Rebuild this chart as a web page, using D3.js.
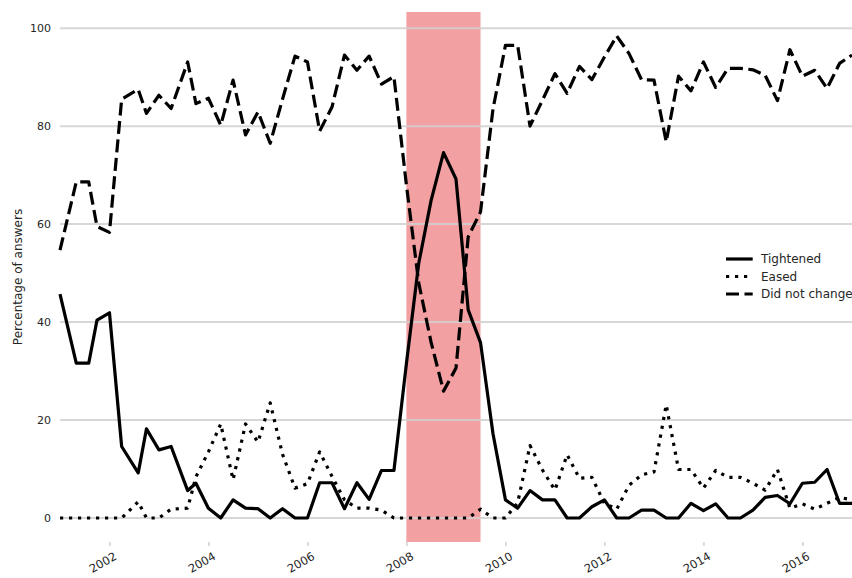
<!DOCTYPE html>
<html>
<head>
<meta charset="utf-8">
<script src="https://cdn.jsdelivr.net/npm/d3@7"></script>
<style>
  body { margin: 0; background: #fff; }
  svg text { font-family: "DejaVu Sans", sans-serif; fill: #262626; }
</style>
</head>
<body>
<div id="chart"></div>
<script>
// Survey dates (one per survey round)
const surveyDates = [
  "2001-01", "2001-05", "2001-08", "2001-10",
  "2002-01", "2002-04", "2002-08", "2002-10",
  "2003-01", "2003-04", "2003-08", "2003-10",
  "2004-01", "2004-04", "2004-07", "2004-10",
  "2005-01", "2005-04", "2005-07", "2005-10",
  "2006-01", "2006-04", "2006-07", "2006-10",
  "2007-01", "2007-04", "2007-07", "2007-10",
  "2008-01", "2008-04", "2008-07", "2008-10",
  "2009-01", "2009-04", "2009-07", "2009-10",
  "2010-01", "2010-04", "2010-07", "2010-10",
  "2011-01", "2011-04", "2011-07", "2011-10",
  "2012-01", "2012-04", "2012-07", "2012-10",
  "2013-01", "2013-04", "2013-07", "2013-10",
  "2014-01", "2014-04", "2014-07", "2014-10",
  "2015-01", "2015-04", "2015-07", "2015-10",
  "2016-01", "2016-04", "2016-07", "2016-10",
  "2017-01"
];

// Percentage of answers per survey
const tightened = [
  45.7, 31.6, 31.6, 40.4,
  41.9, 14.6, 9.2, 18.2,
  13.9, 14.6, 5.6, 7.1,
  2.0, 0, 3.7, 2.0,
  1.9, 0, 1.9, 0,
  0, 7.2, 7.2, 1.9,
  7.2, 3.8, 9.7, 9.7,
  31.5, 52, 64.8, 74.6,
  69.2, 42.5, 35.8, 17.2,
  3.7, 2.0, 5.6, 3.7,
  3.7, 0, 0, 2.3,
  3.7, 0, 0, 1.6,
  1.6, 0, 0, 3.0,
  1.5, 2.9, 0, 0,
  1.6, 4.2, 4.6, 2.9,
  7.1, 7.3, 9.9, 3.0,
  3.0
];

const eased = [
  0, 0, 0, 0,
  0, 0, 3.3, 0,
  0, 1.8, 2.0, 8.4,
  13.5, 19.2, 7.8, 19.2,
  15.5, 23.5, 13, 6.1,
  7.0, 13.5, 8.5, 3.7,
  2.0, 2.0, 1.6, 0,
  0, 0, 0, 0,
  0, 0, 1.8, 0,
  0, 3.1, 14.8, 9.8,
  5.7, 12.9, 8.1, 8.3,
  3.0, 1.8, 6.7, 8.8,
  9.4, 23.1, 9.9, 9.9,
  6.1, 9.7, 8.3, 8.3,
  7.1, 5.7, 9.9, 2.0,
  2.9, 1.8, 3.0, 4.2,
  3.7
];

const didNotChange = [
  54.7, 68.6, 68.6, 59.5,
  58.3, 85.5, 87.5, 82.6,
  86.3, 83.6, 93.1, 84.6,
  85.7, 80.2, 89.4, 78.2,
  82.9, 76.5, 85.5, 94.3,
  93.1, 79.0, 83.9, 94.5,
  91.4, 94.3, 88.6, 90.1,
  68.0, 48.0, 35.9, 25.9,
  30.6, 57.4, 62.5, 83.5,
  96.5, 96.5, 80.0, 85.3,
  90.7, 86.7, 92.2, 89.5,
  94.1, 98.4, 94.8, 89.5,
  89.4, 76.8, 90.2, 87.2,
  93.1, 87.9, 91.8, 91.8,
  91.5, 90.4, 85.2, 95.6,
  90.2, 91.4, 87.7, 92.8,
  94.5
];

const recessionPeriod = ["2008-01", "2009-07"];
const yTickValues = [0, 20, 40, 60, 80, 100];
const xTickYears = [2002, 2004, 2006, 2008, 2010, 2012, 2014, 2016];

const seriesInfo = [
  { name: "Tightened", values: tightened, dash: null },
  { name: "Eased", values: eased, dash: "3.2,5.8" },
  { name: "Did not change", values: didNotChange, dash: "13,5.5" }
];

const parseMonth = d3.timeParse("%Y-%m");

class SurveyVis {
  constructor(_parentElement) {
    this.parentElement = _parentElement;
    this.initVis();
  }

  initVis() {
    let vis = this;

    vis.margin = { top: 12, right: 0, bottom: 36, left: 60 };
    vis.width = 852 - vis.margin.left - vis.margin.right;
    vis.height = 578 - vis.margin.top - vis.margin.bottom;

    vis.svg = d3
      .select("#" + vis.parentElement)
      .append("svg")
      .attr("width", 852)
      .attr("height", 578)
      .append("g")
      .attr("transform", "translate(" + vis.margin.left + "," + vis.margin.top + ")");

    vis.x = d3
      .scaleTime()
      .domain([parseMonth("2001-01"), parseMonth("2017-01")])
      .range([0, vis.width]);

    vis.y = d3.scaleLinear().domain([-4.9, 103.3]).range([vis.height, 0]);

    // Recession shading
    vis.svg
      .append("rect")
      .attr("x", vis.x(parseMonth(recessionPeriod[0])))
      .attr("width", vis.x(parseMonth(recessionPeriod[1])) - vis.x(parseMonth(recessionPeriod[0])))
      .attr("y", 0)
      .attr("height", vis.height)
      .style("fill", "#f3a0a2");

    // Horizontal grid lines
    vis.svg
      .selectAll(".grid")
      .data(yTickValues)
      .enter()
      .append("line")
      .attr("class", "grid")
      .attr("x1", 0)
      .attr("x2", vis.width)
      .attr("y1", (d) => vis.y(d))
      .attr("y2", (d) => vis.y(d))
      .style("stroke", "#d0d0d0")
      .style("stroke-opacity", 0.85)
      .style("stroke-width", 2);

    // Y axis (labels only)
    vis.yAxis = d3.axisLeft(vis.y).tickValues(yTickValues).tickSize(0).tickPadding(9);
    let yg = vis.svg.append("g").attr("class", "y-axis").call(vis.yAxis);
    yg.select(".domain").remove();
    yg.selectAll("text").style("font-size", "11px").style("fill", "#262626");

    // X axis
    vis.xAxis = d3
      .axisBottom(vis.x)
      .tickValues(xTickYears.map((yr) => new Date(yr, 0, 1)))
      .tickFormat(d3.timeFormat("%Y"))
      .tickSize(4);
    let xg = vis.svg
      .append("g")
      .attr("class", "x-axis")
      .attr("transform", "translate(0," + vis.height + ")")
      .call(vis.xAxis);
    xg.select(".domain").remove();
    xg.selectAll("line").style("stroke", "#b8b8b8");
    xg.selectAll("text")
      .style("font-size", "11.5px")
      .style("fill", "#262626")
      .style("text-anchor", "end")
      .attr("dx", "-0.15em")
      .attr("dy", "0.8em")
      .attr("y", 9)
      .attr("transform", "rotate(-30)");

    // Y axis title
    vis.svg
      .append("text")
      .attr("transform", "rotate(-90)")
      .attr("x", -vis.height / 2)
      .attr("y", -38)
      .style("text-anchor", "middle")
      .style("font-size", "12px")
      .text("Percentage of answers");

    // Lines
    seriesInfo.forEach((s) => {
      let data = surveyDates.map((d, i) => ({ date: parseMonth(d), value: s.values[i] }));
      let line = d3
        .line()
        .x((d) => vis.x(d.date))
        .y((d) => vis.y(d.value));
      vis.svg
        .append("path")
        .datum(data)
        .attr("d", line)
        .style("fill", "none")
        .style("stroke", "#000")
        .style("stroke-width", 3.2)
        .style("stroke-linejoin", "round")
        .style("stroke-dasharray", s.dash);
    });

    // Legend
    vis.legend = vis.svg.append("g").attr("transform", "translate(666,247)");
    seriesInfo.forEach((s, i) => {
      vis.legend
        .append("line")
        .attr("x1", 0)
        .attr("x2", 26.7)
        .attr("y1", i * 17.5)
        .attr("y2", i * 17.5)
        .style("stroke", "#000")
        .style("stroke-width", 3.2)
        .style("stroke-dasharray", s.dash);
      vis.legend
        .append("text")
        .attr("x", 35)
        .attr("y", i * 17.5)
        .attr("dy", "0.35em")
        .style("font-size", "12px")
        .text(s.name);
    });
  }
}

new SurveyVis("chart");
</script>
</body>
</html>
